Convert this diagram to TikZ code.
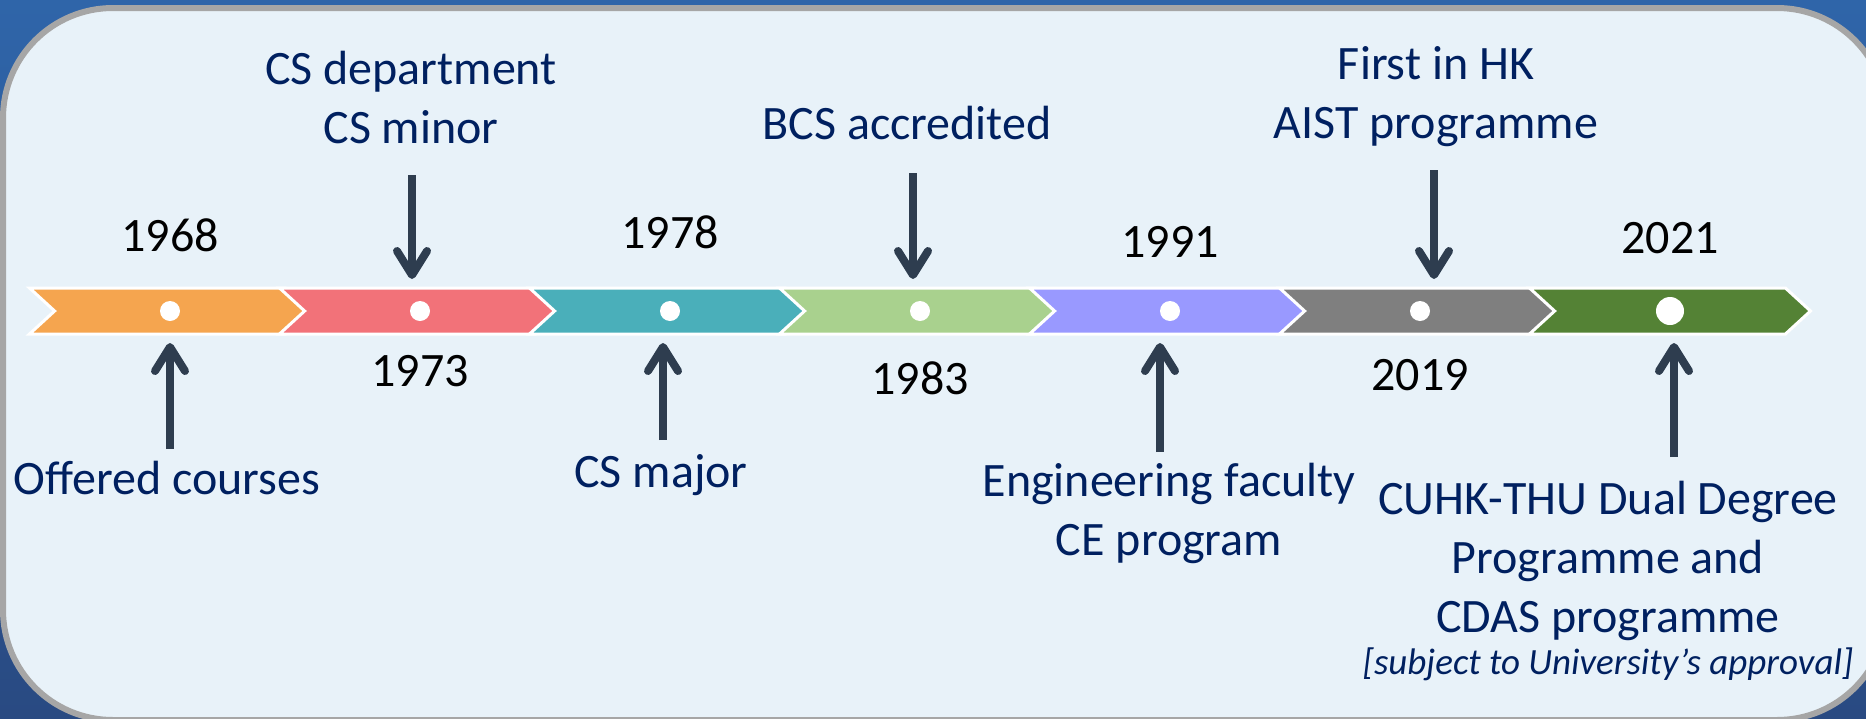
\documentclass[tikz,border=0pt]{standalone}
\usepackage{fontspec}
\setmainfont{Carlito}
\usepackage{xcolor}
\usetikzlibrary{shapes.symbols,arrows.meta}

\definecolor{bgtop}{HTML}{2F65A9}
\definecolor{bgbottom}{HTML}{294A82}
\definecolor{panelbg}{HTML}{E8F2F9}
\definecolor{panelline}{HTML}{A6A6A6}
\definecolor{navytext}{HTML}{002060}
\definecolor{arrowdark}{HTML}{2E3D4F}
\definecolor{corange}{HTML}{F5A54F}
\definecolor{cpink}{HTML}{F27279}
\definecolor{cteal}{HTML}{4AAFBA}
\definecolor{clime}{HTML}{A9D18E}
\definecolor{cviolet}{HTML}{9999FF}
\definecolor{cgrey}{HTML}{7F7F7F}
\definecolor{cgreen}{HTML}{548235}

\begin{document}
\begin{tikzpicture}[x=1pt,y=-1pt,
    chev/.style={signal, signal from=west, signal to=east, signal pointer angle=85,
      minimum width=281pt, minimum height=46pt, inner sep=0pt, outer sep=0pt,
      draw=white, line width=3pt, fill=#1},
    dot/.style={circle, fill=white, inner sep=0pt, minimum size=20pt},
    year/.style={font=\fontsize{48}{58}\selectfont, text=black},
    event/.style={font=\fontsize{48}{59}\selectfont, text=navytext, align=center},
    pointer/.style={draw=arrowdark, line width=8pt, shorten >=9pt,
      -{Straight Barb[length=24pt, width=30pt, round]}}]
\useasboundingbox (0,0) rectangle (1866,718);
\clip (0,0) rectangle (1866,718);
\shade[top color=bgtop, bottom color=bgbottom] (0,0) rectangle (1866,718);
\draw[draw=panelline, line width=6pt, fill=panelbg, rounded corners=110pt]
      (3,8) rectangle (1887,720);

\node[chev=corange] (c1) at (170,311) {};
\node[chev=cpink, right of=c1, node distance=250pt] (c2) {};
\node[chev=cteal, right of=c2, node distance=250pt] (c3) {};
\node[chev=clime, right of=c3, node distance=250pt] (c4) {};
\node[chev=cviolet, right of=c4, node distance=250pt] (c5) {};
\node[chev=cgrey, right of=c5, node distance=250pt] (c6) {};
\node[chev=cgreen, right of=c6, node distance=250pt] (c7) {};

\node[dot] (d1) at (c1) {};
\node[dot] (d2) at (c2) {};
\node[dot] (d3) at (c3) {};
\node[dot] (d4) at (c4) {};
\node[dot] (d5) at (c5) {};
\node[dot] (d6) at (c6) {};
\node[dot, minimum size=28pt] (d7) at (c7) {};

\node[year, above of=c1, node distance=76pt] (y1968) {1968};
\node[year, below of=c2, node distance=60pt] (y1973) {1973};
\node[year, above of=c3, node distance=79pt] (y1978) {1978};
\node[year, below of=c4, node distance=67pt] (y1983) {1983};
\node[year, above of=c5, node distance=69pt] (y1991) {1991};
\node[year, below of=c6, node distance=64pt] (y2019) {2019};
\node[year, above of=c7, node distance=73pt] (y2021) {2021};

\node[event, below of=c1, node distance=167pt, xshift=-3pt] (offered) {Offered courses};
\node[event, above of=c2, node distance=214pt, xshift=-9pt] (csdept) {CS department\\CS minor};
\node[event, below of=c3, node distance=164pt, xshift=-9pt] (csmajor) {CS major};
\node[event, above of=c4, node distance=188pt, xshift=-13pt] (bcs) {BCS accredited};
\node[event, below of=c5, node distance=202pt, xshift=-1pt] (engfac) {Engineering faculty\\CE program};
\node[event, above of=c6, node distance=214pt, xshift=16pt] (aist) {First in HK\\AIST programme};
\node[event, below of=c7, node distance=270pt, xshift=-62pt] (dual)
      {CUHK-THU Dual Degree\\Programme and\\CDAS programme\\[-17pt]
       {\fontsize{37}{44}\selectfont\itshape [subject to University’s approval]}};

\coordinate (p1) at (170,449);
\coordinate (p2) at (412,175);
\coordinate (p3) at (663,440);
\coordinate (p4) at (913,173);
\coordinate (p5) at (1160,452);
\coordinate (p6) at (1434,170);
\coordinate (p7) at (1674,457);
\draw[pointer] (p1) -- (p1 |- c1.south);
\draw[pointer] (p2) -- (p2 |- c2.north);
\draw[pointer] (p3) -- (p3 |- c3.south);
\draw[pointer] (p4) -- (p4 |- c4.north);
\draw[pointer] (p5) -- (p5 |- c5.south);
\draw[pointer] (p6) -- (p6 |- c6.north);
\draw[pointer] (p7) -- (p7 |- c7.south);
\end{tikzpicture}
\end{document}
